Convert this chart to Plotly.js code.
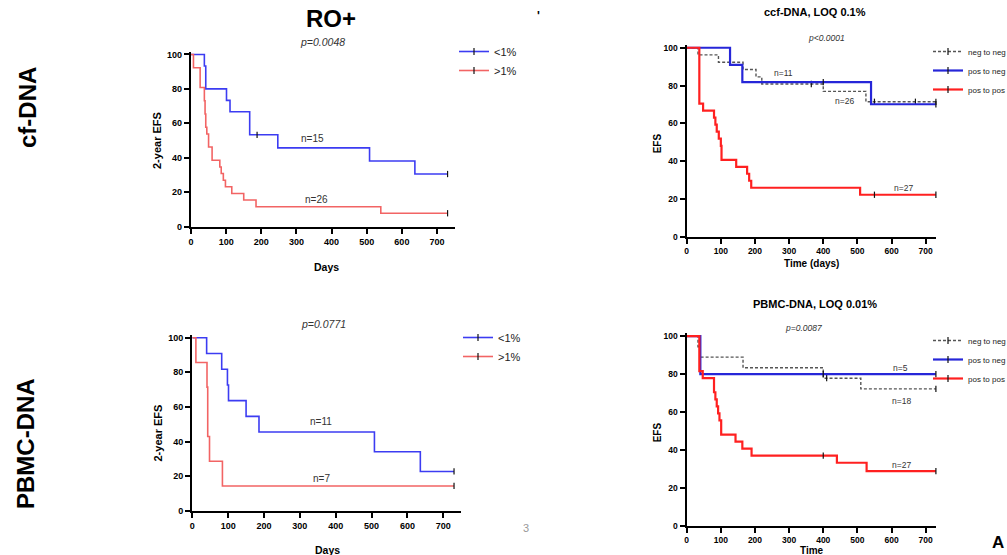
<!DOCTYPE html>
<html><head><meta charset="utf-8">
<script src="https://cdn.plot.ly/plotly-3.0.1.min.js"></script>
<style>html,body{margin:0;padding:0;background:#fff;}#chart{width:1007px;height:555px;}</style>
</head><body><div id="chart"></div>
<script>
// ---------------- DATA ----------------
// Top-left: cf-DNA (RO+), 2-year EFS
const tlBlueName = '<1%';
const tlBlueT = [0, 38, 42, 101, 111, 167, 247, 508, 637, 730];
const tlBlueS = [100, 93.3, 80, 73.3, 66.7, 53.3, 45.7, 38.1, 30.5, 30.5];
const tlBlueCens = [188, 730];
const tlRedName = '>1%';
const tlRedT = [0, 7, 26, 38, 40, 42, 45, 50, 60, 82, 86, 92, 98, 116, 150, 185, 540, 730];
const tlRedS = [100, 92.3, 80.8, 73.1, 65.4, 57.7, 53.8, 46.2, 38.5, 34.6, 30.8, 26.9, 23.1, 19.2, 15.4, 11.5, 7.7, 7.7];
const tlRedCens = [730];

// Bottom-left: PBMC-DNA
const blBlueT = [0, 40, 82, 98, 101, 150, 186, 508, 636, 730];
const blBlueS = [100, 90.9, 81.8, 72.7, 63.6, 54.5, 45.5, 34.1, 22.7, 22.7];
const blBlueCens = [730];
const blRedT = [0, 10, 41, 43, 48, 84, 730];
const blRedS = [100, 85.7, 71.4, 42.9, 28.6, 14.3, 14.3];
const blRedCens = [730];

// Top-right: ccf-DNA, LOQ 0.1%
const groupNames = ['neg to neg', 'pos to neg', 'pos to pos'];
const trNegT = [0, 33, 93, 165, 203, 220, 400, 525, 730];
const trNegS = [100, 96.2, 92.3, 88.5, 84.6, 80.8, 76.9, 71.4, 71.4];
const trNegCens = [365, 550, 670, 730];
const trPosNegT = [0, 127, 163, 540, 730];
const trPosNegS = [100, 90.9, 81.8, 70.1, 70.1];
const trPosNegCens = [400, 730];
const trPosPosT = [0, 37, 48, 80, 84, 88, 94, 100, 102, 145, 177, 183, 189, 508, 730];
const trPosPosS = [100, 70.4, 66.7, 63, 59.3, 55.6, 51.9, 48.1, 40.7, 37, 33.3, 29.6, 25.9, 22.2, 22.2];
const trPosPosCens = [550, 730];

// Bottom-right: PBMC-DNA, LOQ 0.01%
const brNegT = [0, 33, 38, 165, 400, 510, 730];
const brNegS = [100, 94.4, 88.9, 83.3, 77.8, 72.2, 72.2];
const brNegCens = [410, 730];
const brPosNegT = [0, 40, 730];
const brPosNegS = [100, 80, 80];
const brPosNegCens = [400, 730];
const brPosPosT = [0, 37, 47, 80, 84, 88, 92, 96, 101, 143, 163, 190, 440, 527, 730];
const brPosPosS = [100, 81.5, 77.8, 70.4, 66.7, 63, 59.3, 55.6, 48.1, 44.4, 40.7, 37, 33.3, 28.9, 28.9];
const brPosPosCens = [400, 730];

const xTicks = [0, 100, 200, 300, 400, 500, 600, 700];
const yTicks = [0, 20, 40, 60, 80, 100];

// ---------------- BUILD ----------------
const FONT = 'Arial, "Liberation Sans", sans-serif';
function survAt(ts, ss, t) { let v = ss[0]; for (let i = 0; i < ts.length; i++) { if (ts[i] <= t) v = ss[i]; } return v; }

const traces = [];
function addCurve(ts, ss, cens, name, color, width, dash, xa, ya, leg) {
  traces.push({x: ts, y: ss, mode: 'lines', line: {shape: 'hv', color: color, width: width, dash: dash},
    xaxis: xa, yaxis: ya, showlegend: false, hoverinfo: 'skip'});
  traces.push({x: cens, y: cens.map(c => survAt(ts, ss, c)), mode: 'markers', cliponaxis: false,
    marker: {symbol: 'line-ns', size: 4.5, line: {width: 1.2, color: '#111'}},
    xaxis: xa, yaxis: ya, showlegend: false, hoverinfo: 'skip'});
  traces.push({x: [null], y: [null], name: name, mode: 'lines+markers', legend: leg,
    line: {color: color, width: width, dash: dash},
    marker: {symbol: 'line-ns', size: 5, line: {width: 1.2, color: '#111'}},
    xaxis: xa, yaxis: ya, showlegend: true});
}
const LB = '#3c3cf2', LR = '#f26464', RB = '#2626d8', RR = '#ff2020', RD = '#555';
addCurve(tlBlueT, tlBlueS, tlBlueCens, tlBlueName, LB, 1.6, 'solid', 'x', 'y', 'legend');
addCurve(tlRedT, tlRedS, tlRedCens, tlRedName, LR, 1.6, 'solid', 'x', 'y', 'legend');
addCurve(trNegT, trNegS, trNegCens, groupNames[0], RD, 1.4, '3px,2px', 'x2', 'y2', 'legend2');
addCurve(trPosNegT, trPosNegS, trPosNegCens, groupNames[1], RB, 2.2, 'solid', 'x2', 'y2', 'legend2');
addCurve(trPosPosT, trPosPosS, trPosPosCens, groupNames[2], RR, 2.2, 'solid', 'x2', 'y2', 'legend2');
addCurve(blBlueT, blBlueS, blBlueCens, tlBlueName, LB, 1.6, 'solid', 'x3', 'y3', 'legend3');
addCurve(blRedT, blRedS, blRedCens, tlRedName, LR, 1.6, 'solid', 'x3', 'y3', 'legend3');
addCurve(brNegT, brNegS, brNegCens, groupNames[0], RD, 1.4, '3px,2px', 'x4', 'y4', 'legend4');
addCurve(brPosNegT, brPosNegS, brPosNegCens, groupNames[1], RB, 2.2, 'solid', 'x4', 'y4', 'legend4');
addCurve(brPosPosT, brPosPosS, brPosPosCens, groupNames[2], RR, 2.2, 'solid', 'x4', 'y4', 'legend4');

const W = 1007, H = 555;
const fx = p => p / W, fy = p => 1 - p / H;
function xax(d0, d1, rmax, anchor, fs) {
  return {domain: [fx(d0), fx(d1)], range: [0, rmax], anchor: anchor, tickvals: xTicks,
    showgrid: false, zeroline: false, showline: true, linecolor: '#000', linewidth: 2.2,
    ticks: 'outside', ticklen: 5, tickwidth: 2, tickcolor: '#000',
    tickfont: {family: FONT, size: fs, color: '#000', weight: 'bold'}, fixedrange: true};
}
function yax(p0, p1, anchor, fs) {
  return {domain: [fy(p0), fy(p1)], range: [0, 101.5], anchor: anchor, tickvals: yTicks,
    showgrid: false, zeroline: false, showline: true, linecolor: '#000', linewidth: 2.2,
    ticks: 'outside', ticklen: 5, tickwidth: 2, tickcolor: '#000',
    tickfont: {family: FONT, size: fs, color: '#000', weight: 'bold'}, fixedrange: true};
}

function ann(text, x, y, size, opts) {
  return Object.assign({text: text, xref: 'paper', yref: 'paper', x: fx(x), y: fy(y),
    xanchor: 'center', yanchor: 'middle', showarrow: false,
    font: {family: FONT, size: size, color: '#000'}}, opts || {});
}
const bold = (s, c) => ({family: FONT, size: s, color: c || '#000', weight: 'bold'});
const ital = (s) => ({family: FONT, size: s, color: '#333', style: 'italic'});
const reg = (s, c) => ({family: FONT, size: s, color: c || '#333'});

const annotations = [
  ann('RO+', 331, 18, 24, {font: bold(24)}),
  ann("'", 538, 16, 12, {font: bold(12)}),
  ann('cf-DNA', 27, 108, 24, {font: bold(24), textangle: -90}),
  ann('PBMC-DNA', 25, 444, 24, {font: bold(24), textangle: -90}),
  ann('p=0.0048', 322, 42, 10.5, {font: ital(10.5)}),
  ann('p=0.0771', 323, 323.5, 10.5, {font: ital(10.5)}),
  ann('2-year EFS', 157, 141, 11, {font: bold(11), textangle: -90}),
  ann('2-year EFS', 157.5, 433, 11, {font: bold(11), textangle: -90}),
  ann('Days', 326, 267, 10.5, {font: bold(10.5)}),
  ann('Days', 327, 549.5, 10.5, {font: bold(10.5)}),
  ann('n=15', 312, 138, 10, {font: reg(10)}),
  ann('n=26', 316, 199, 10, {font: reg(10)}),
  ann('n=11', 321, 421, 10, {font: reg(10)}),
  ann('n=7', 321, 478, 10, {font: reg(10)}),
  ann('3', 526, 527.5, 11, {font: reg(11, '#999')}),
  ann('ccf-DNA, LOQ 0.1%', 815, 12.5, 11, {font: bold(11)}),
  ann('p&lt;0.0001', 826, 38.5, 8.5, {font: ital(8.5)}),
  ann('EFS', 657.3, 143, 10, {font: bold(10), textangle: -90}),
  ann('Time (days)', 811, 263, 10, {font: bold(10)}),
  ann('n=11', 783.3, 73, 8.5, {font: reg(8.5)}),
  ann('n=26', 844.3, 101, 8.5, {font: reg(8.5)}),
  ann('n=27', 903.3, 188, 8.5, {font: reg(8.5)}),
  ann('PBMC-DNA, LOQ 0.01%', 815, 304, 11, {font: bold(11)}),
  ann('p=0.0087', 803, 328, 8.5, {font: ital(8.5)}),
  ann('EFS', 657.3, 432, 10, {font: bold(10), textangle: -90}),
  ann('Time', 811.7, 550, 10, {font: bold(10)}),
  ann('n=5', 900, 368, 8.5, {font: reg(8.5)}),
  ann('n=18', 901.7, 401, 8.5, {font: reg(8.5)}),
  ann('n=27', 901.7, 465, 8.5, {font: reg(8.5)}),
  ann('A', 1006, 554, 17, {font: bold(17), xanchor: 'right', yanchor: 'bottom'})
];

function leg(x, y, fs) {
  return {x: fx(x), y: fy(y), xref: 'paper', yref: 'paper', xanchor: 'left', yanchor: 'top',
    bgcolor: 'rgba(0,0,0,0)', borderwidth: 0, font: {family: FONT, size: fs, color: '#222'},
    itemwidth: 30, tracegroupgap: 0};
}

const layout = {
  width: W, height: H, margin: {l: 0, r: 0, t: 0, b: 0, autoexpand: false},
  paper_bgcolor: '#fff', plot_bgcolor: 'rgba(0,0,0,0)', hovermode: false,
  xaxis: xax(191, 454.6, 750, 'y', 9),
  yaxis: yax(226.5, 51.9, 'x', 9),
  xaxis2: xax(686.7, 935.9, 730, 'y2', 8.5),
  yaxis2: yax(236.7, 44.9, 'x2', 8.5),
  xaxis3: xax(192.3, 461.2, 750, 'y3', 9),
  yaxis3: yax(510.7, 335.1, 'x3', 9),
  xaxis4: xax(686.7, 935.9, 730, 'y4', 8.5),
  yaxis4: yax(526, 333.2, 'x4', 8.5),
  legend: leg(454, 37, 11),
  legend2: leg(928, 37, 8),
  legend3: leg(458, 323, 11),
  legend4: leg(928, 326, 8),
  annotations: annotations,
  showlegend: true
};

Plotly.newPlot('chart', traces, layout, {displayModeBar: false, staticPlot: true});
</script></body></html>
